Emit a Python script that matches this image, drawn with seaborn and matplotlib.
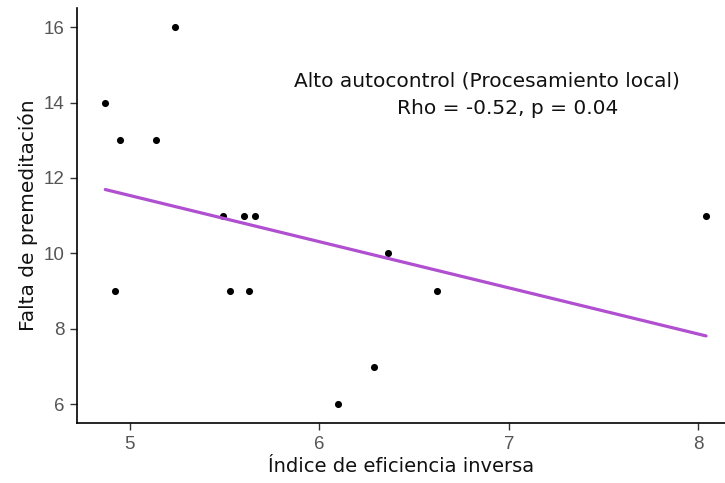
import numpy as np
import pandas as pd
import matplotlib
matplotlib.use("Agg")
import matplotlib.pyplot as plt
import seaborn as sns

# valores
eficiencia = [4.87, 4.95, 5.14, 5.24, 5.49, 5.60, 5.66, 4.92, 5.53, 5.63, 6.10, 6.29, 6.36, 6.62, 8.04]
premeditacion = [14, 13, 13, 16, 11, 11, 11, 9, 9, 9, 6, 7, 10, 9, 11]
titulo = "Alto autocontrol (Procesamiento local)"
estadistico = "Rho = -0.52, p = 0.04"

df = pd.DataFrame({"x": eficiencia, "y": premeditacion})

sns.set_theme(style="ticks")
plt.rcParams["font.family"] = ["Liberation Sans", "DejaVu Sans"]

fig = plt.figure(figsize=(7.25, 4.83), dpi=100)
ax = fig.add_axes([0.106, 0.124, 0.894, 0.859])

sns.regplot(data=df, x="x", y="y", ci=None, ax=ax,
            scatter_kws={"s": 26, "color": "black", "linewidths": 0, "alpha": 1},
            line_kws={"color": "#B04FD0", "linewidth": 2.3})

ax.set_xlim(4.72, 8.14)
ax.set_ylim(5.5, 16.5)
ax.set_xticks([5, 6, 7, 8])
ax.set_yticks([6, 8, 10, 12, 14, 16])
ax.tick_params(colors="#333333", labelcolor="#555555", labelsize=13.5,
               length=5, width=1, pad=4)
for s in ["top", "right"]:
    ax.spines[s].set_visible(False)
for s in ["left", "bottom"]:
    ax.spines[s].set_linewidth(1.2)
    ax.spines[s].set_color("black")

ax.set_xlabel("Índice de eficiencia inversa", fontsize=14, color="#111111",
              labelpad=3, family="DejaVu Sans")
ax.set_ylabel("Falta de premeditación", fontsize=14.5, color="#111111",
              labelpad=4, family="DejaVu Sans")

ax.text(6.884, 14.56, titulo, ha="center", va="center", fontsize=14.5,
        color="#111111", family="DejaVu Sans")
ax.text(6.995, 13.84, estadistico, ha="center", va="center", fontsize=14.5,
        color="#111111", family="DejaVu Sans")

fig.savefig("out.png", dpi=100)
